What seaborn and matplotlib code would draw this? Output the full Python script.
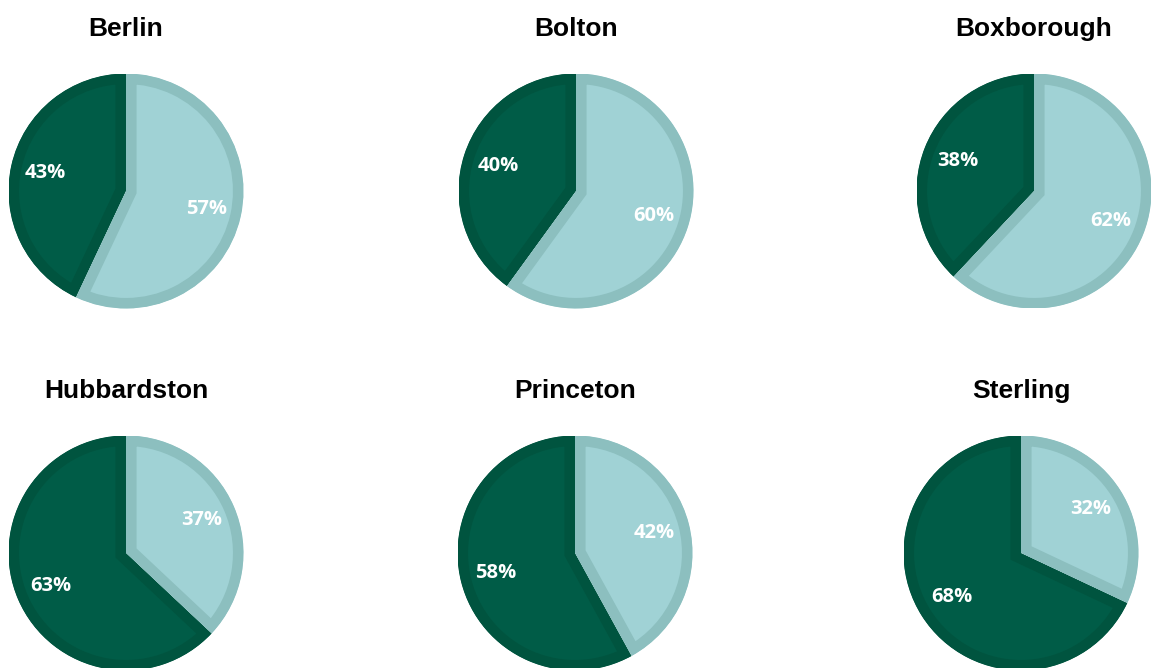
import matplotlib
matplotlib.use("Agg")
import matplotlib.pyplot as plt
import seaborn as sns

# ---- data ----
towns = ["Berlin", "Bolton", "Boxborough", "Hubbardston", "Princeton", "Sterling"]
dark_share = [43, 40, 38, 63, 58, 68]
light_share = [57, 60, 62, 37, 42, 32]

# ---- style ----
sns.set_theme(style="white")
plt.rcParams["font.family"] = ["Liberation Sans", "DejaVu Sans"]

dark_fill, dark_edge = "#005C47", "#00543F"
light_fill, light_edge = "#A0D2D5", "#8CBFBF"

W, H = 1151, 668
R = 117.5  # pie radius in px
centers = [(126, 191), (576, 191), (1034, 191),
           (126, 553), (575, 553), (1021, 553)]

fig = plt.figure(figsize=(W / 100, H / 100), dpi=100)
fig.patch.set_facecolor("white")

for town, d, l, (cx, cy) in zip(towns, dark_share, light_share, centers):
    ax = fig.add_axes([(cx - R) / W, (H - cy - R) / H, 2 * R / W, 2 * R / H])
    wedges, _, autotexts = ax.pie(
        [d, l],
        colors=[dark_fill, light_fill],
        startangle=90,
        counterclock=True,
        autopct="%1.0f%%",
        pctdistance=0.70,
        radius=1.0,
        wedgeprops=dict(linewidth=15.2),
        textprops=dict(color="white", fontsize=14.5, fontweight="bold",
                       family=["Open Sans", "DejaVu Sans"]),
    )
    ax.set_xlim(-1, 1)
    ax.set_ylim(-1, 1)
    ax.set_aspect("equal")
    ax.axis("off")
    for w, ec in zip(wedges, [dark_edge, light_edge]):
        w.set_edgecolor(ec)
        w.set_clip_on(True)
        w.set_clip_path(w)  # keep the border inside each slice
    ax.text(0.5, 0.5 + 162 / (2 * R), town, transform=ax.transAxes,
            ha="center", va="center", fontsize=19, fontweight="bold",
            color="black")

fig.savefig("out.png", dpi=100, facecolor="white")
